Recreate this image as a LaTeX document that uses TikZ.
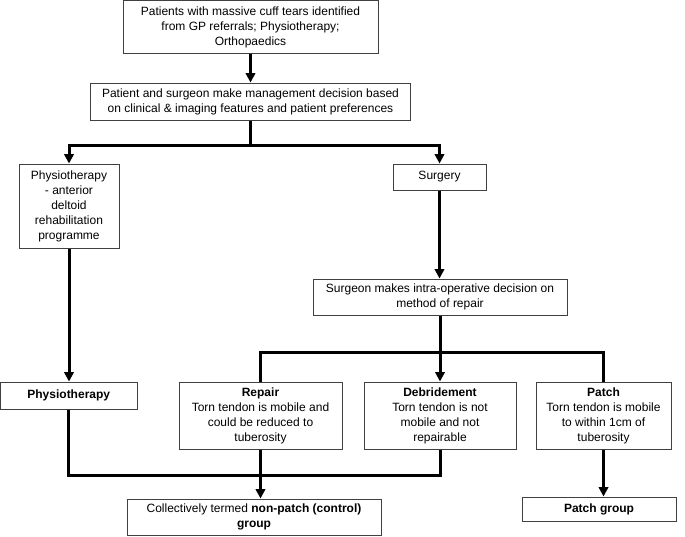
\documentclass[tikz,border=0pt]{standalone}
\usepackage{fontspec}
\setmainfont{Liberation Sans}
\usetikzlibrary{arrows.meta}
\begin{document}
\begin{tikzpicture}[x=0.75pt,y=-0.75pt,
  box/.style={draw=black!75, line width=0.75pt, fill=white, align=center,
    inner sep=1pt, font=\fontsize{9}{11.25}\selectfont},
  conn/.style={line width=2.25pt, black},
  arr/.style={conn, -{Triangle[width=7pt,length=7pt]}}]
\useasboundingbox (0,0) rectangle (685,536);

\node[box, minimum width=191.25pt, minimum height=40.1pt] (b1) at (250.5,27.25)
  {Patients with massive cuff tears identified\\from GP referrals; Physiotherapy;\\Orthopaedics};
\node[box, minimum width=240pt, minimum height=27.75pt] (b2) at (250.5,101.5)
  {Patient and surgeon make management decision based\\on clinical \& imaging features and patient preferences};
\node[box, minimum width=75pt, minimum height=63pt] (phys1) at (69,206)
  {Physiotherapy\\- anterior\\deltoid\\rehabilitation\\programme};
\node[box, minimum width=69.75pt, minimum height=19.5pt] (surg) at (439.5,177)
  {Surgery};
\node[box, minimum width=190.5pt, minimum height=27pt] (surgeon) at (440,297)
  {Surgeon makes intra-operative decision on\\method of repair};
\node[box, minimum width=102.4pt, minimum height=20.25pt] (phys2) at (68.75,395.5)
  {\textbf{Physiotherapy}};
\node[box, minimum width=122.25pt, minimum height=50.25pt] (repair) at (260.5,415.5)
  {\textbf{Repair}\\Torn tendon is mobile and\\could be reduced to\\tuberosity};
\node[box, minimum width=114pt, minimum height=50.25pt] (debr) at (440,415.5)
  {\textbf{Debridement}\\Torn tendon is not\\mobile and not\\repairable};
\node[box, minimum width=101.25pt, minimum height=50.25pt] (patch) at (603.5,415.5)
  {\textbf{Patch}\\Torn tendon is mobile\\to within 1cm of\\tuberosity};
\node[box, minimum width=190.5pt, minimum height=27pt] (np) at (254,517)
  {Collectively termed \textbf{non-patch (control)}\\\textbf{group}};
\node[box, minimum width=115.5pt, minimum height=18pt] (pg) at (599,509)
  {\textbf{Patch group}};

\coordinate (hT) at (250.5,145);
\coordinate (hM) at (440,352);
\coordinate (hB) at (440,475);

\draw[arr] (b1.south) -- (b2.north);
\draw[arr] (b2.south) |- (phys1.north |- hT) -- (phys1.north);
\draw[arr] (hT) -| (surg.north);
\draw[arr] (surg.south) -- (surg.south |- surgeon.north);
\draw[arr] (phys1.south) -- (phys1.south |- phys2.north);
\draw[arr] (surgeon.south) -- (debr.north);
\draw[conn] (repair.north) |- (hM) -| (patch.north);
\draw[conn] (phys2.south) |- (hB) -- (debr.south);
\draw[arr] (repair.south) -- (repair.south |- np.north);
\draw[arr] (patch.south) -- (patch.south |- pg.north);
\end{tikzpicture}
\end{document}
